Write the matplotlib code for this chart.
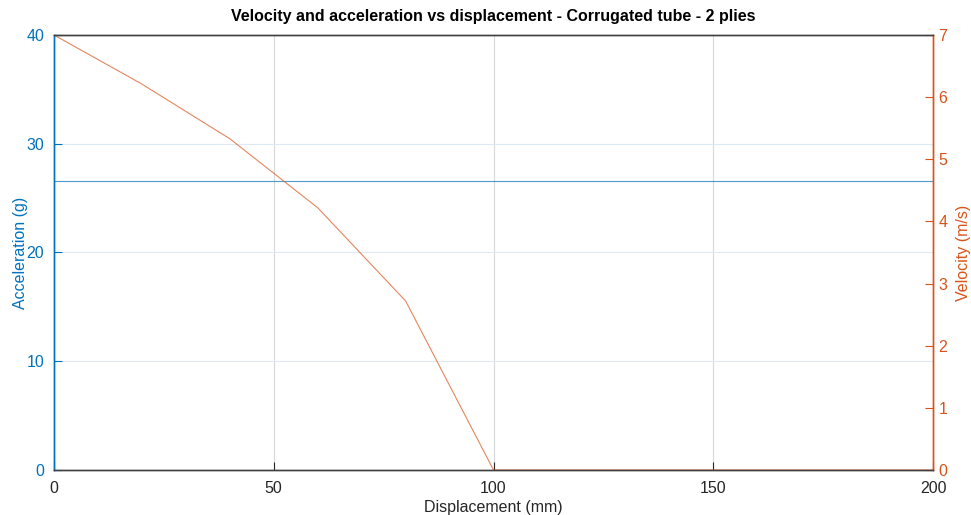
import numpy as np
import matplotlib.pyplot as plt

plt.rcParams['font.family'] = ['Liberation Sans', 'DejaVu Sans']

# data
disp_acc = [0, 200]
accel = [26.55, 26.55]

disp_vel = [0, 20, 40, 60, 80, 100, 120, 140, 160, 180, 200]
velocity = [7.0, 6.21, 5.33, 4.22, 2.72, 0, 0, 0, 0, 0, 0]

x_ticks = [0, 50, 100, 150, 200]
acc_ticks = [0, 10, 20, 30, 40]
vel_ticks = [0, 1, 2, 3, 4, 5, 6, 7]

blue = '#0072BD'
orange = '#D95319'

fig = plt.figure(figsize=(9.71, 5.15), dpi=100)
ax = fig.add_axes([0.0556, 0.0874, 0.9053, 0.8447])
ax2 = ax.twinx()

ax.plot(disp_acc, accel, color=blue, lw=0.8, alpha=0.7)
ax2.plot(disp_vel, velocity, color=orange, lw=0.8, alpha=0.7)

ax.set_xlim(0, 200)
ax.set_ylim(0, 40)
ax2.set_ylim(0, 7)
ax.set_xticks(x_ticks)
ax.set_yticks(acc_ticks)
ax2.set_yticks(vel_ticks)

# grid: vertical grey, horizontal light blue from the left axis
for xv in x_ticks[1:-1]:
    ax.axvline(xv, color='#d6d9dc', lw=0.8, zorder=0)
for yv in acc_ticks[1:-1]:
    ax.axhline(yv, color='#dde9f4', lw=0.8, zorder=0)

ax.tick_params(axis='x', direction='in', length=6, colors='#262626', labelsize=11.5, pad=8, top=False)
ax.tick_params(axis='y', direction='in', length=6, colors=blue, labelsize=11.5, pad=7)
ax2.tick_params(axis='y', direction='in', length=6, colors=orange, labelsize=11.5, pad=4)

for a in (ax, ax2):
    a.spines['top'].set_color('#404040')
    a.spines['bottom'].set_color('#404040')
    a.spines['left'].set_color(blue)
    a.spines['right'].set_color(orange)
    for s in a.spines.values():
        s.set_linewidth(1.0)

ax.set_xlabel('Displacement (mm)', fontsize=11.5, color='#262626', labelpad=3)
ax.set_ylabel('Acceleration (g)', fontsize=11.5, color=blue, labelpad=-1)
ax2.set_ylabel('Velocity (m/s)', fontsize=11.5, color=orange, labelpad=6)
ax.set_title('Velocity and acceleration vs displacement - Corrugated tube - 2 plies',
             fontsize=11.5, fontweight='bold', pad=10)

fig.savefig('out.png', dpi=100)
